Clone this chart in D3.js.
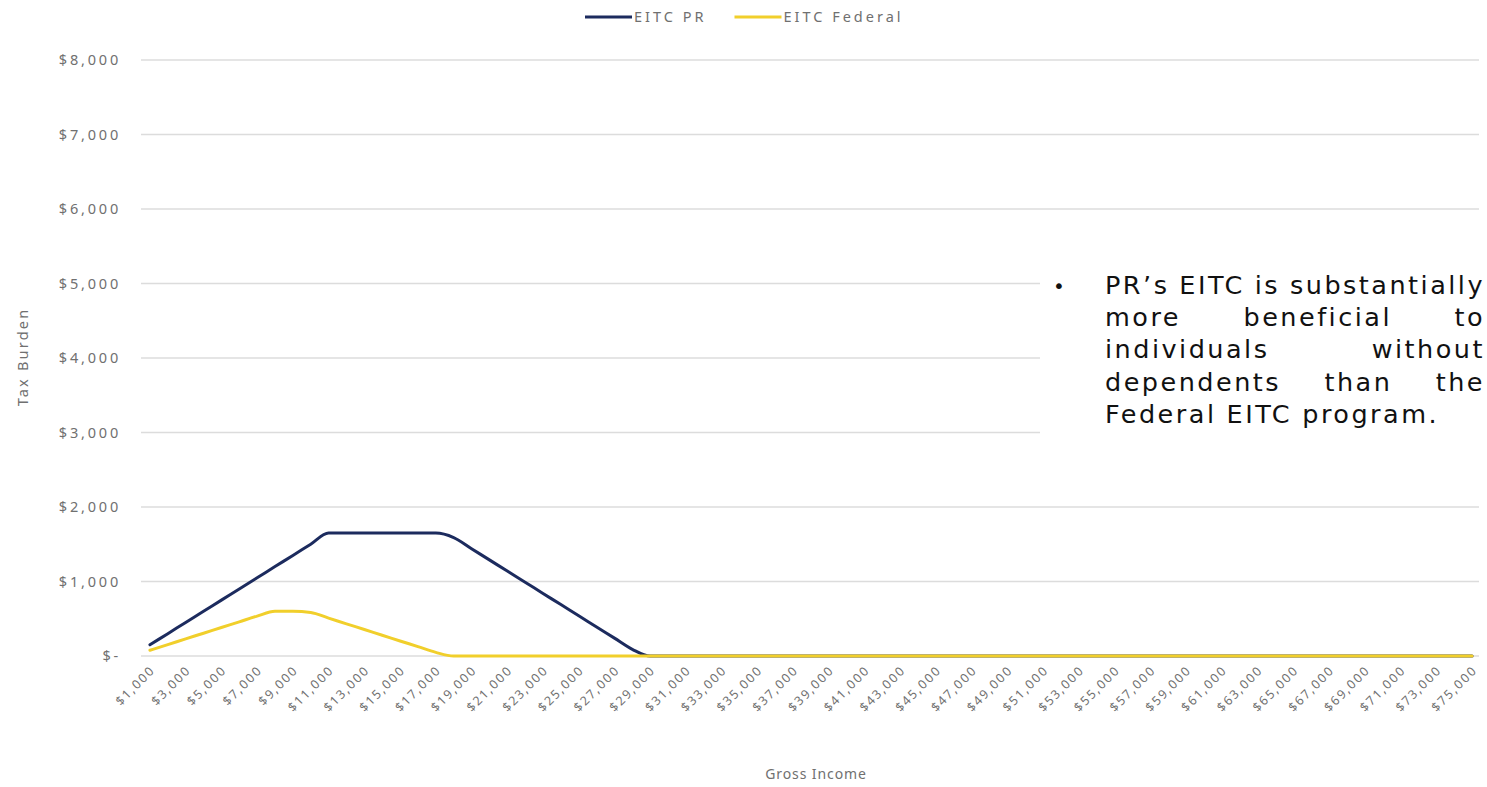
<!DOCTYPE html>
<html><head><meta charset="utf-8">
<script src="https://cdn.jsdelivr.net/npm/d3@7"></script>
<style>html,body{margin:0;padding:0;background:#fff;overflow:hidden}svg{display:block}</style>
</head><body>
<svg id="chart" width="1487" height="787"></svg>
<script>
// ---------- DATA ----------
const incomes = [1000,2000,3000,4000,5000,6000,7000,8000,9000,10000,
  11000,12000,13000,14000,15000,16000,17000,18000,19000,20000,
  21000,22000,23000,24000,25000,26000,27000,28000,29000,30000,
  31000,32000,33000,34000,35000,36000,37000,38000,39000,40000,
  41000,42000,43000,44000,45000,46000,47000,48000,49000,50000,
  51000,52000,53000,54000,55000,56000,57000,58000,59000,60000,
  61000,62000,63000,64000,65000,66000,67000,68000,69000,70000,
  71000,72000,73000,74000,75000];
const eitcPR = [150,300,450,600,750,900,1050,1200,1350,1500,
  1650,1650,1650,1650,1650,1650,1650,1590,1440,1290,
  1140,990,840,690,540,390,240,90,0,0,
  0,0,0,0,0,0,0,0,0,0,
  0,0,0,0,0,0,0,0,0,0,
  0,0,0,0,0,0,0,0,0,0,
  0,0,0,0,0,0,0,0,0,0,
  0,0,0,0,0];
const eitcFederal = [77,153,230,306,383,459,536,600,600,585,
  508,432,355,279,202,126,49,0,0,0,
  0,0,0,0,0,0,0,0,0,0,
  0,0,0,0,0,0,0,0,0,0,
  0,0,0,0,0,0,0,0,0,0,
  0,0,0,0,0,0,0,0,0,0,
  0,0,0,0,0,0,0,0,0,0,
  0,0,0,0,0];
const seriesNames = ["EITC PR","EITC Federal"];
const yTicks = [0,1000,2000,3000,4000,5000,6000,7000,8000];
const yTickLabels = ["$-","$1,000","$2,000","$3,000","$4,000","$5,000","$6,000","$7,000","$8,000"];
const xTickIncomes = [1000,3000,5000,7000,9000,11000,13000,15000,17000,19000,21000,23000,25000,27000,29000,31000,33000,35000,37000,39000,41000,43000,45000,47000,49000,51000,53000,55000,57000,59000,61000,63000,65000,67000,69000,71000,73000,75000];
const xTickLabels = ["$1,000","$3,000","$5,000","$7,000","$9,000","$11,000","$13,000","$15,000","$17,000","$19,000","$21,000","$23,000","$25,000","$27,000","$29,000","$31,000","$33,000","$35,000","$37,000","$39,000","$41,000","$43,000","$45,000","$47,000","$49,000","$51,000","$53,000","$55,000","$57,000","$59,000","$61,000","$63,000","$65,000","$67,000","$69,000","$71,000","$73,000","$75,000"];
const xTitle = "Gross Income";
const yTitle = "Tax Burden";
const noteLines = ["PR\u2019s EITC is substantially","more beneficial to","individuals without","dependents than the","Federal EITC program."];

// ---------- STYLE ----------
const colors = ["#1c2b5e", "#f1cf2b"];
const axisFont = "'Noto Sans', sans-serif";
const textGrey = "#707070";

const svg = d3.select("#chart");
const x = d3.scalePoint().domain(incomes).range([141, 1481]).padding(0.5);
const y = d3.scaleLinear().domain([0, 8000]).range([656, 60]);

// gridlines
svg.append("g").selectAll("line").data(yTicks).join("line")
  .attr("x1", 141).attr("x2", 1479)
  .attr("y1", d => y(d)).attr("y2", d => y(d))
  .attr("stroke", "#dcdcdc").attr("stroke-width", 1.5);

// y tick labels
svg.append("g").selectAll("text").data(yTicks).join("text")
  .attr("x", 121).attr("y", d => y(d)).attr("dy", "0.36em")
  .attr("text-anchor", "end")
  .attr("font-family", axisFont).attr("font-size", 14.5).attr("letter-spacing", 2.8)
  .attr("fill", textGrey)
  .text((d, i) => yTickLabels[i]);

// x tick labels
svg.append("g").selectAll("text").data(xTickIncomes).join("text")
  .attr("transform", d => `translate(${x(d) + 6},${671}) rotate(-45)`)
  .attr("text-anchor", "end")
  .attr("font-family", axisFont).attr("font-size", 12.5).attr("letter-spacing", 1.8)
  .attr("fill", textGrey)
  .text((d, i) => xTickLabels[i]);

// titles
svg.append("text").attr("x", 816).attr("y", 779).attr("text-anchor", "middle")
  .attr("font-family", axisFont).attr("font-size", 14).attr("letter-spacing", 0.9)
  .attr("fill", textGrey).text(xTitle);
svg.append("text").attr("transform", "translate(28,357) rotate(-90)").attr("text-anchor", "middle")
  .attr("font-family", axisFont).attr("font-size", 14.5).attr("letter-spacing", 2.2)
  .attr("fill", textGrey).text(yTitle);

// lines
const seriesData = [eitcPR, eitcFederal];
const lineGen = d3.line().x((d, i) => x(incomes[i])).y(d => y(d)).curve(d3.curveMonotoneX);
seriesData.forEach((s, k) => {
  svg.append("path").datum(s).attr("d", lineGen)
    .attr("fill", "none").attr("stroke", colors[k]).attr("stroke-width", 3)
    .attr("stroke-linejoin", "round").attr("stroke-linecap", "round");
});

// legend
const lg = svg.append("g");
let lx = 585;
seriesNames.forEach((n, k) => {
  lg.append("line").attr("x1", lx).attr("x2", lx + 47).attr("y1", 17).attr("y2", 17)
    .attr("stroke", colors[k]).attr("stroke-width", 3);
  const t = lg.append("text").attr("x", lx + 49).attr("y", 17).attr("dy", "0.36em")
    .attr("font-family", axisFont).attr("font-size", 14.5).attr("letter-spacing", 3)
    .attr("fill", textGrey).text(n);
  lx += 49 + t.node().getComputedTextLength() + 28;
});

// note box
svg.append("rect").attr("x", 1040).attr("y", 255).attr("width", 460).attr("height", 215).attr("fill", "#fff");
const noteFont = "'DejaVu Sans', sans-serif";
const noteSize = 25.5;
const left = 1105, right = 1485, base0 = 294, lh = 32.2;
// letter spacing fitted so the last (unjustified) line spans like the reference
const probe = svg.append("text").attr("font-family", noteFont).attr("font-size", noteSize).text(noteLines[4]);
const natural = probe.node().getComputedTextLength();
probe.remove();
const ls = Math.max(0, (335 - natural) / noteLines[4].length);
const note = svg.append("g").attr("font-family", noteFont).attr("font-size", noteSize)
  .attr("fill", "#111").attr("letter-spacing", ls);
note.append("text").attr("x", 1053).attr("y", base0 - 1).attr("font-size", 20).text("\u2022");
noteLines.forEach((line, i) => {
  const words = line.split(" ");
  const yy = base0 + i * lh;
  const widths = words.map(w => {
    const t = note.append("text").text(w);
    const wd = t.node().getComputedTextLength();
    t.remove();
    return wd;
  });
  const total = d3.sum(widths);
  const last = i === noteLines.length - 1;
  const gap = last ? noteSize * 0.3 + ls : (right - left - total) / (words.length - 1);
  let xx = left;
  words.forEach((w, j) => {
    note.append("text").attr("x", xx).attr("y", yy).text(w);
    xx += widths[j] + gap;
  });
});
</script>
</body></html>
